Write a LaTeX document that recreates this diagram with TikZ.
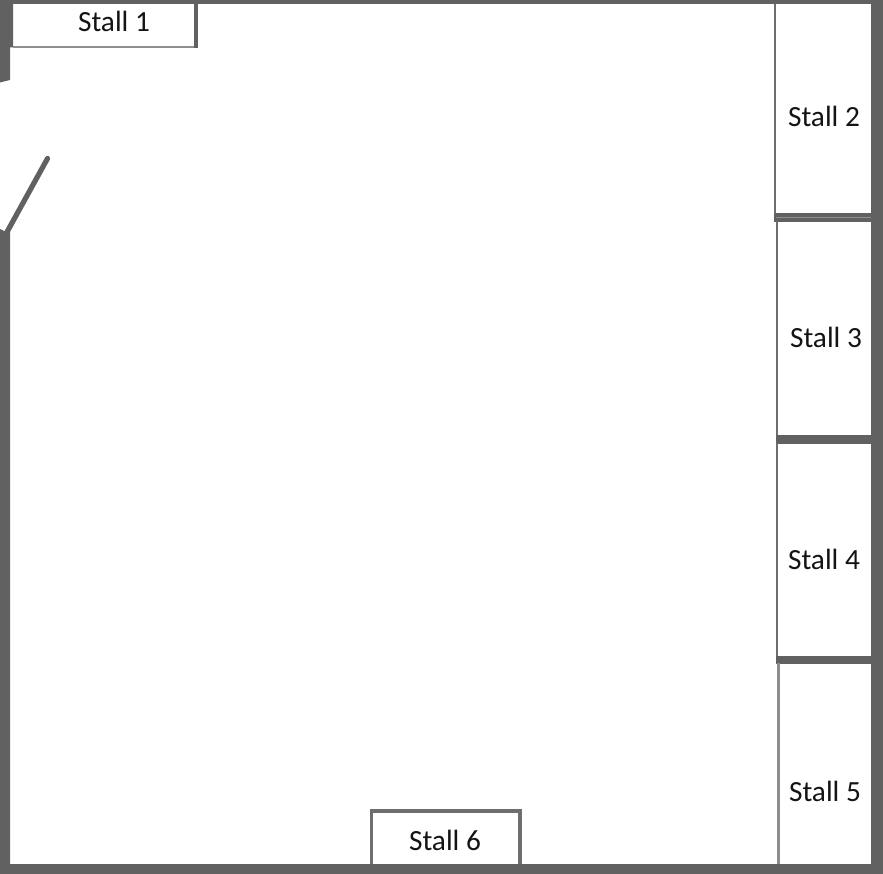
\documentclass[tikz,border=0pt]{standalone}
\usepackage{fontspec}
\setmainfont{Carlito}
\definecolor{wall}{HTML}{616161}
\definecolor{edge}{HTML}{6E6E6E}
\definecolor{pale}{HTML}{8E8E8E}
\tikzset{
  stalllabel/.style={font=\fontsize{29.3}{32}\selectfont, text=black!92, inner sep=0pt, anchor=center},
  wallfill/.style={fill=wall, draw=none},
  stalledge/.style={draw=edge, line width=2.6pt},
  thinedge/.style={draw=pale, line width=2pt}
}
\begin{document}
\begin{tikzpicture}[x=1pt,y=-1pt]
\useasboundingbox (0,0) rectangle (883,874);
\fill[white] (0,0) rectangle (883,874);
% outer walls
\fill[wallfill] (0,0) rectangle (883,4);
\fill[wallfill] (871,0) rectangle (883,874);
\fill[wallfill] (0,864) rectangle (883,874);
\fill[wallfill] (0,0) -- (13,0) -- (13,47.5) -- (10,47.5) -- (10,80) -- (0,82.5) -- cycle;
\fill[wallfill] (0,229) -- (6,232) -- (10,232) -- (10,874) -- (0,874) -- cycle;
% door
\coordinate (doorA) at (7,232);
\coordinate (doorB) at (47.5,158.5);
\draw[wall, line width=5.2pt, line cap=round] (doorA) -- (doorB);
% stall 1
\draw[thinedge] (12.5,47.5) -- (198,47.5);
\fill[wallfill] (194,0) rectangle (198,48.5);
% stall 2
\draw[stalledge] (775,4) -- (775,214);
\fill[wallfill] (774,213) rectangle (871,222);
\draw[pale, line width=0.6pt] (776,217.3) -- (871,217.3);
% stall 3
\draw[stalledge] (777,221) -- (777,436);
\fill[wallfill] (776,435) rectangle (871,443.5);
% stall 4
\draw[stalledge] (777,443) -- (777,657);
\fill[wallfill] (775.5,656) rectangle (871,663.5);
% stall 5
\draw[draw=pale, line width=3pt] (778,663) -- (778,864);
% stall 6
\draw[edge, line width=3.2pt] (371.5,864) -- (371.5,811) -- (520,811) -- (520,864);
% labels
\node[stalllabel] (s1) at (114,21.4) {Stall 1};
\node[stalllabel] (s2) at (824,116.4) {Stall 2};
\node[stalllabel] (s3) at (826,337.4) {Stall 3};
\node[stalllabel] (s4) at (824,559.4) {Stall 4};
\node[stalllabel] (s5) at (825,791.4) {Stall 5};
\node[stalllabel] (s6) at (445,840.4) {Stall 6};
\end{tikzpicture}
\end{document}
